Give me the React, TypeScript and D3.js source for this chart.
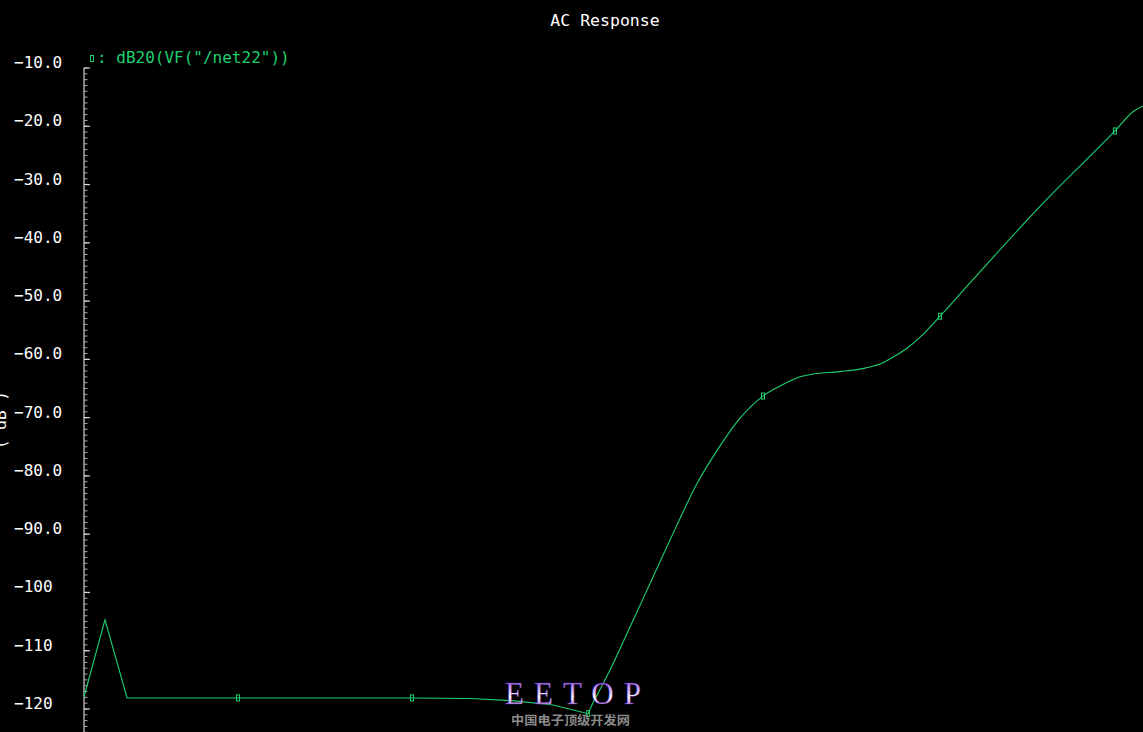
import React from "react";
import * as d3 from "d3";

const freqHz = [1, 1.315, 1.754, 7.46, 72.1, 154, 277, 454, 718, 766, 955, 1191, 1469, 1786, 2291, 2972, 3908, 5212, 7031, 8770, 11400, 13490, 19190, 26600, 33650, 38370, 46000, 54580, 70790, 107400, 285800, 334200, 693400, 877000, 1000000];
const magDb = [-117.9, -104.7, -118.1, -118.1, -118.1, -118.2, -118.6, -119.3, -120.8, -118.9, -113.3, -107.1, -101.1, -95.5, -88.4, -81.3, -75.4, -70.1, -66.3, -64.6, -63.0, -62.5, -62.1, -61.5, -60.6, -59.6, -58.1, -56.2, -52.6, -46.5, -32.5, -30.4, -20.8, -17.5, -16.5];
const markerIdx = [3, 4, 8, 18, 28, 32];
const majorTicks = [-10, -20, -30, -40, -50, -60, -70, -80, -90, -100, -110, -120];
const tickLabels = ["\u221210.0", "\u221220.0", "\u221230.0", "\u221240.0", "\u221250.0", "\u221260.0", "\u221270.0", "\u221280.0", "\u221290.0", "\u2212100", "\u2212110", "\u2212120"];
const minorTicks = d3.range(-10, -125, -1);
const smoothFrom = 9;

const W = 1143, H = 732;
const GREEN = "#1fd070";
const FONT = "'DejaVu Sans Mono', monospace";

export default function App() {
  const x = d3.scaleLog().domain([1, 1e6]).range([84, 1143]);
  const y = d3.scaleLinear().domain([-10, -120]).range([68, 709]);
  const pts = freqHz.map((f, i) => [f, magDb[i]] as [number, number]);
  const lineLin = d3.line<[number, number]>().x(d => x(d[0])).y(d => y(d[1]));
  const lineSmooth = d3.line<[number, number]>().x(d => x(d[0])).y(d => y(d[1])).curve(d3.curveMonotoneX);
  return (
    <svg width={W} height={H} style={{ position: "absolute", left: 0, top: 0, background: "#000" }}>
      <defs>
        <linearGradient id="eetop" x1="0" y1="0" x2="0" y2="1">
          <stop offset="0" stopColor="#7a2fd0" />
          <stop offset="0.45" stopColor="#d9c8ff" />
          <stop offset="0.6" stopColor="#ffffff" />
          <stop offset="1" stopColor="#8a3ce0" />
        </linearGradient>
      </defs>
      <rect x={0} y={0} width={W} height={H} fill="#000" />
      <text x={605} y={26} fill="#fff" fontFamily={FONT} fontSize={16.5} textAnchor="middle">AC Response</text>
      <text transform={`translate(6,420) rotate(-90)`} fill="#fff" fontFamily={FONT} fontSize={16} textAnchor="middle">( dB )</text>
      <line x1={84} x2={84} y1={y(-10)} y2={H} stroke="#a8a8a8" strokeWidth={1.5} />
      {minorTicks.map(t => (
        <line key={"m" + t} x1={84} x2={87.5} y1={y(t)} y2={y(t)} stroke="#a8a8a8" strokeWidth={1} />
      ))}
      {majorTicks.map((t, i) => (
        <g key={"M" + t}>
          <line x1={84} x2={90} y1={y(t)} y2={y(t)} stroke="#d8d8d8" strokeWidth={1.2} />
          <text x={14} y={y(t)} fill="#fff" fontFamily={FONT} fontSize={16}>{tickLabels[i]}</text>
        </g>
      ))}
      <rect x={90.5} y={55.5} width={3} height={6} fill="none" stroke={GREEN} strokeWidth={1} />
      <text x={97} y={63} fill={GREEN} fontFamily={FONT} fontSize={16}>: dB20(VF("/net22"))</text>
      <path d={lineLin(pts.slice(0, smoothFrom + 1)) || ""} fill="none" stroke={GREEN} strokeWidth={1.1} />
      <path d={lineSmooth(pts.slice(smoothFrom)) || ""} fill="none" stroke={GREEN} strokeWidth={1.1} />
      {markerIdx.map(i => (
        <rect key={"k" + i} x={x(freqHz[i]) - 1.5} y={y(magDb[i]) - 3} width={3} height={6} fill="none" stroke={GREEN} strokeWidth={1} />
      ))}
      <text x={505} y={704} fill="url(#eetop)" stroke="#5a1aa0" strokeWidth={0.4} fontFamily="'Liberation Serif', serif" fontSize={31} textLength={136} lengthAdjust="spacing">EETOP</text>
      <text x={511} y={725} fill="#8a8a8a" fontFamily="'Noto Sans CJK SC', sans-serif" fontWeight="bold" fontSize={12} textLength={119} lengthAdjust="spacingAndGlyphs">中国电子顶级开发网</text>
    </svg>
  );
}
